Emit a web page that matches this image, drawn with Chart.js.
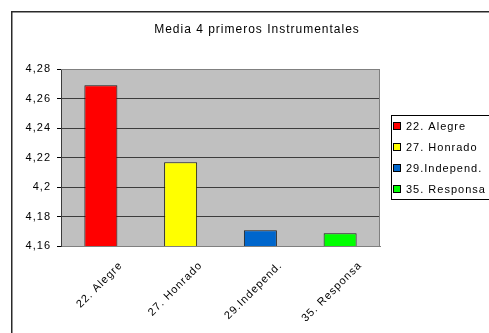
<!DOCTYPE html>
<html>
<head>
<meta charset="utf-8">
<script src="https://cdn.jsdelivr.net/npm/chart.js@4/dist/chart.umd.min.js"></script>
<style>
    html, body { margin: 0; padding: 0; background: #fff; }
    canvas { display: block; }
</style>
</head>
<body>
<canvas id="chart" width="489" height="333"></canvas>
<script>
// data
const categories = ['22. Alegre', '27. Honrado', '29.Independ.', '35. Responsa'];
const means = [4.269, 4.2167, 4.1706, 4.1686];
const barColors = ['#ff0000', '#ffff00', '#0066cc', '#00ff00'];
const yMin = 4.16;
const yMax = 4.28;
const yStep = 0.02;
const chartTitle = 'Media 4 primeros Instrumentales';

const FONT = "'Liberation Sans', Arial, sans-serif";

// excel-style text is spaced wider, canvas letterSpacing gets close to it
const spacing = {
    id: 'spacing',
    beforeUpdate(chart) { chart.ctx.letterSpacing = '1px'; },
    beforeDraw(chart) { chart.ctx.letterSpacing = '1px'; }
};

// grey plot area, frame round the whole chart, title centred on the frame
const frame = {
    id: 'frame',
    beforeDraw(chart) {
        const { ctx, chartArea: a } = chart;
        ctx.save();
        ctx.fillStyle = '#c0c0c0';
        ctx.fillRect(a.left, a.top, a.right - a.left, a.bottom - a.top);
        ctx.restore();
    },
    afterDraw(chart) {
        const { ctx, chartArea: a } = chart;
        ctx.save();
        ctx.strokeStyle = '#808080';
        ctx.lineWidth = 1;
        ctx.beginPath();
        ctx.moveTo(a.left, a.top + 0.5);
        ctx.lineTo(a.right - 0.5, a.top + 0.5);
        ctx.lineTo(a.right - 0.5, a.bottom);
        ctx.stroke();
        ctx.strokeStyle = '#2a2a2a';
        ctx.lineWidth = 1.5;
        ctx.strokeRect(11.75, 11.75, 600, 600);

        ctx.fillStyle = '#000';
        ctx.font = '12px ' + FONT;
        ctx.letterSpacing = '1px';
        ctx.textAlign = 'center';
        ctx.textBaseline = 'middle';
        ctx.fillText(chartTitle, 257, 29.5);
        ctx.restore();
    }
};

// legend box on the right, cut off by the edge like in the picture
const boxLegend = {
    id: 'boxLegend',
    afterDraw(chart) {
        const ctx = chart.ctx;
        const x = 391, y = 115, rowH = 21;
        ctx.save();
        ctx.fillStyle = '#fff';
        ctx.fillRect(x, y, 200, 84);
        ctx.strokeStyle = '#000';
        ctx.lineWidth = 1;
        ctx.strokeRect(x + 0.5, y + 0.5, 200, 84);
        ctx.font = '11px ' + FONT;
        ctx.letterSpacing = '1px';
        ctx.textBaseline = 'middle';
        categories.forEach((c, i) => {
            const cy = y + 11 + i * rowH;
            ctx.fillStyle = barColors[i];
            ctx.fillRect(x + 2.5, cy - 3.5, 7, 7);
            ctx.strokeStyle = '#000';
            ctx.strokeRect(x + 2.5, cy - 3.5, 7, 7);
            ctx.fillStyle = '#000';
            ctx.fillText(c, x + 15, cy + 0.5);
        });
        ctx.restore();
    }
};

new Chart(document.getElementById('chart'), {
    type: 'bar',
    data: {
        labels: categories,
        datasets: [{
            data: means,
            backgroundColor: barColors,
            borderColor: '#1a1a1a',
            borderWidth: 1,
            borderSkipped: false,
            categoryPercentage: 1,
            barPercentage: 0.414
        }]
    },
    options: {
        responsive: false,
        animation: false,
        events: [],
        layout: { padding: { left: 0, right: 109, top: 69, bottom: 0 } },
        plugins: {
            legend: { display: false },
            tooltip: { enabled: false },
            title: { display: false }
        },
        scales: {
            x: {
                grid: { display: false, drawTicks: false },
                border: { display: true, color: '#808080', width: 1 },
                ticks: {
                    color: '#000',
                    font: { family: FONT, size: 11 },
                    minRotation: 45,
                    maxRotation: 45,
                    padding: 13,
                    labelOffset: 20
                },
                afterFit(scale) { scale.height = 87; }
            },
            y: {
                min: yMin,
                max: yMax,
                grid: {
                    color: (c) => (c.tick && Math.abs(c.tick.value - yMax) < 1e-6) ? '#808080' : '#3c3c3c',
                    tickColor: '#000',
                    tickLength: 4,
                    lineWidth: 1
                },
                border: { display: true, color: '#3c3c3c', width: 1 },
                ticks: {
                    stepSize: yStep,
                    color: '#000',
                    font: { family: FONT, size: 11 },
                    padding: 6,
                    callback: (v) => (Math.round(v * 100) / 100).toString().replace('.', ',')
                },
                afterFit(scale) { scale.width = 61; }
            }
        }
    },
    plugins: [spacing, frame, boxLegend]
});
</script>
</body>
</html>
